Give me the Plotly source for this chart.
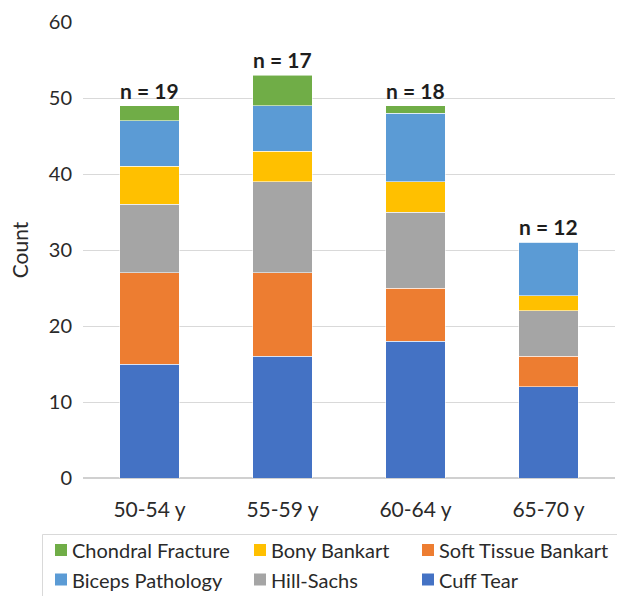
import plotly.graph_objects as go

# Age groups and findings per group (stacked counts)
age_groups = ["50-54 y", "55-59 y", "60-64 y", "65-70 y"]
sample_sizes = [19, 17, 18, 12]

cuff_tear = [15, 16, 18, 12]
soft_tissue_bankart = [12, 11, 7, 4]
hill_sachs = [9, 12, 10, 6]
bony_bankart = [5, 4, 4, 2]
biceps_pathology = [6, 6, 9, 7]
chondral_fracture = [2, 4, 1, 0]

y_ticks = [0, 10, 20, 30, 40, 50, 60]

# stacking order from bottom to top
series = [
    ("Cuff Tear", cuff_tear, "#4472C4"),
    ("Soft Tissue Bankart", soft_tissue_bankart, "#ED7D31"),
    ("Hill-Sachs", hill_sachs, "#A5A5A5"),
    ("Bony Bankart", bony_bankart, "#FFC000"),
    ("Biceps Pathology", biceps_pathology, "#5B9BD5"),
    ("Chondral Fracture", chondral_fracture, "#70AD47"),
]

# legend layout: rows then columns
legend_rows = [
    ["Chondral Fracture", "Bony Bankart", "Soft Tissue Bankart"],
    ["Biceps Pathology", "Hill-Sachs", "Cuff Tear"],
]

FONT = "Lato, 'Open Sans', sans-serif"
TEXT = "#2a2a2a"

W, H = 617, 596
L, R, T, B = 83, 2, 22, 118
pw, ph = W - L - R, H - T - B


def px_x(x):
    return (x - L) / pw


def px_y(y):
    return (H - B - y) / ph


fig = go.Figure()
for name, vals, color in series:
    fig.add_trace(go.Bar(
        x=age_groups, y=vals, name=name,
        marker=dict(color=color, line=dict(color="rgba(255,255,255,0.55)", width=1)),
        showlegend=False,
    ))

totals = [sum(v[i] for _, v, _ in series) for i in range(len(age_groups))]
for g, tot, n in zip(age_groups, totals, sample_sizes):
    fig.add_annotation(
        x=g, y=tot, text=f"<b>n = {n}</b>", showarrow=False,
        yanchor="bottom", yshift=1,
        font=dict(family=FONT, size=21, color="#1e1e1e"),
    )

# legend box
shapes = [dict(
    type="rect", xref="paper", yref="paper",
    x0=px_x(42.5), x1=px_x(640), y0=px_y(620), y1=px_y(534.5),
    line=dict(color="#d9d9d9", width=1), fillcolor="rgba(0,0,0,0)",
)]
colors = {name: c for name, _, c in series}
col_square_x = [55, 254, 422]
row_center_y = [550, 579.5]
sq = 12
for r, row in enumerate(legend_rows):
    for c, name in enumerate(row):
        x0 = col_square_x[c]
        yc = row_center_y[r]
        shapes.append(dict(
            type="rect", xref="paper", yref="paper",
            x0=px_x(x0), x1=px_x(x0 + sq), y0=px_y(yc + sq / 2), y1=px_y(yc - sq / 2),
            line=dict(width=0), fillcolor=colors[name],
        ))
        fig.add_annotation(
            xref="paper", yref="paper", x=px_x(x0 + sq + 3), y=px_y(yc),
            text=name, showarrow=False, xanchor="left", yanchor="middle",
            font=dict(family=FONT, size=20, color=TEXT),
        )

fig.update_layout(
    width=W, height=H,
    margin=dict(l=L, r=R, t=T, b=B),
    paper_bgcolor="white", plot_bgcolor="white",
    barmode="stack", bargap=0.556,
    shapes=shapes,
    font=dict(family=FONT, color=TEXT),
)
fig.update_xaxes(
    tickfont=dict(family=FONT, size=21, color=TEXT),
    showgrid=False, showline=False, ticks="", ticklabelstandoff=17,
)
fig.update_yaxes(
    range=[0, 60], tickvals=y_ticks,
    tickfont=dict(family=FONT, size=20, color=TEXT),
    gridcolor="#d9d9d9", gridwidth=1,
    zeroline=True, zerolinecolor="#d0d0d0", zerolinewidth=1.5,
    ticks="", ticklabelstandoff=10,
    title=dict(text="Count", font=dict(family=FONT, size=21, color=TEXT), standoff=14),
)

fig.write_html("out.html")
